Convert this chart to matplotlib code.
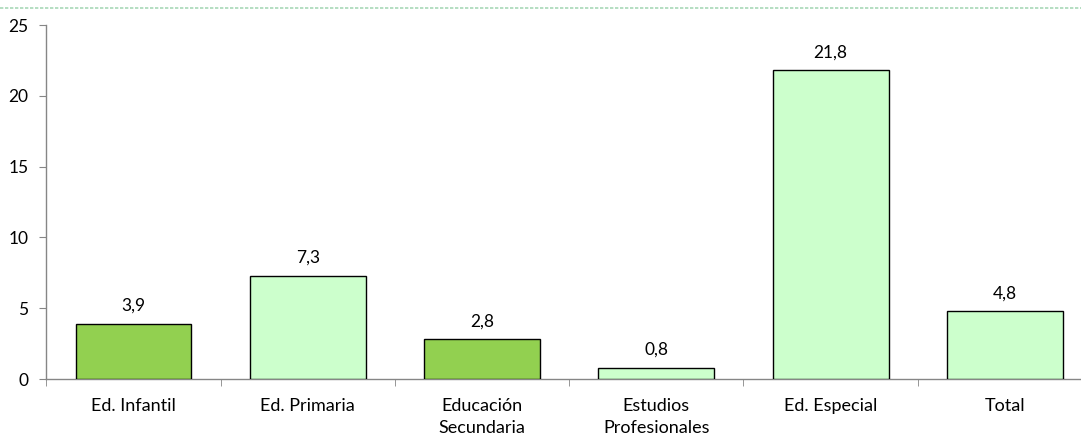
import matplotlib.pyplot as plt
from matplotlib.lines import Line2D

categories = ['Ed. Infantil', 'Ed. Primaria', 'Educación\nSecundaria',
              'Estudios\nProfesionales', 'Ed. Especial', 'Total']
values = [3.9, 7.3, 2.8, 0.8, 21.8, 4.8]
labels = ['3,9', '7,3', '2,8', '0,8', '21,8', '4,8']
colors = ['#92D050', '#CCFFCC', '#92D050', '#CCFFCC', '#CCFFCC', '#CCFFCC']

plt.rcParams['font.family'] = ['Lato', 'DejaVu Sans']

W, H = 1081, 438
fig = plt.figure(figsize=(W / 100, H / 100), dpi=100)
# axes runs a little past the right edge, as in the original
ax = fig.add_axes([46.4 / W, (H - 379) / H, (1092 - 46.4) / W, (379 - 25) / H])

x = list(range(len(categories)))
ax.bar(x, values, width=0.665, color=colors, edgecolor='black', linewidth=1.0, zorder=3)
for xi, v, lab in zip(x, values, labels):
    ax.annotate(lab, (xi, v), xytext=(0, 7), textcoords='offset points',
                ha='center', va='bottom', fontsize=12.5)

ax.set_xlim(-0.5, len(categories) - 0.5)
ax.set_ylim(0, 25)
ax.set_yticks([0, 5, 10, 15, 20, 25])
ax.set_xticks(x)
ax.set_xticklabels(categories, fontsize=13, linespacing=1.4)
ax.set_xticks([i - 0.5 for i in range(len(categories) + 1)], minor=True)
ax.tick_params(axis='x', which='major', length=0, pad=14)
ax.tick_params(axis='x', which='minor', length=5, color='#868686')
ax.tick_params(axis='y', length=5, color='#868686', labelsize=12.5, pad=8)

for s in ['top', 'right']:
    ax.spines[s].set_visible(False)
for s in ['left', 'bottom']:
    ax.spines[s].set_color('#868686')
    ax.spines[s].set_linewidth(1.0)

# dashed border line across the top of the figure
fig.add_artist(Line2D([0, 1], [1 - 7.5 / H, 1 - 7.5 / H], transform=fig.transFigure,
                      color='#A8D8B8', linestyle=(0, (2, 1)), linewidth=1.2))

fig.savefig('out.png', dpi=100)
